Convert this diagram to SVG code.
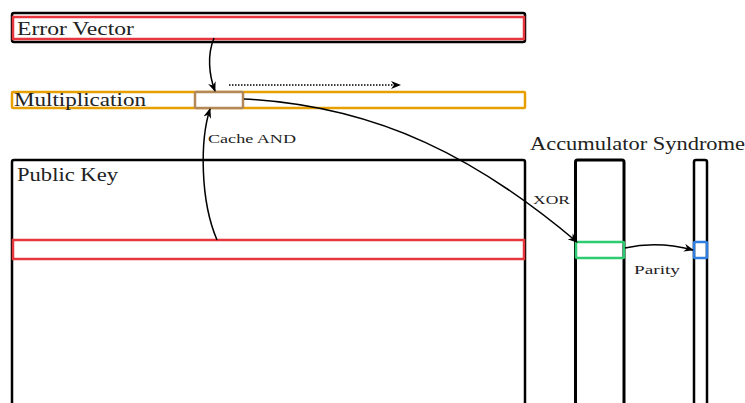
<svg xmlns="http://www.w3.org/2000/svg" width="745" height="403" viewBox="0 0 745 403">
<style>
.blk{fill:none;stroke:#000;stroke-width:2.5;stroke-linejoin:round}
.red{fill:none;stroke:#e8363f;stroke-width:2.5}
.org{fill:none;stroke:#e8a000;stroke-width:2.5}
.brn{fill:#fff;stroke:#b5885a;stroke-width:2.5}
.grn{fill:none;stroke:#2ecc71;stroke-width:2.5}
.blu{fill:none;stroke:#2f7fe0;stroke-width:2.5}
.t{font-family:"Liberation Serif","DejaVu Serif",serif;fill:#222}
.big{font-size:18px}
.sm{font-size:13px}
.conn path{fill:none;stroke:#000;stroke-width:1.5}
</style>
<defs>
<marker id="ah" viewBox="0 0 10 8" refX="9" refY="4" markerWidth="10" markerHeight="8" markerUnits="userSpaceOnUse" orient="auto">
<path d="M0,0 L10,4 L0,8 L3,4 Z" fill="#000"/>
</marker>
</defs>
<rect width="745" height="403" fill="#fff"/>
<g id="error-vector">
<rect class="blk" x="12" y="13" width="513" height="29" rx="2"/>
<rect class="red" x="13" y="17" width="511" height="22"/>
<text class="t big" x="17" y="35" textLength="117" lengthAdjust="spacingAndGlyphs">Error Vector</text>
</g>
<g id="multiplication">
<rect class="org" x="12" y="92" width="513" height="16" rx="1"/>
<rect class="brn" x="195" y="92" width="48" height="16" rx="1"/>
<text class="t big" x="14" y="106" textLength="132" lengthAdjust="spacingAndGlyphs">Multiplication</text>
</g>
<g id="public-key">
<path class="blk" d="M12,404 V162 Q12,160 14,160 H523 Q525,160 525,162 V404"/>
<rect class="red" x="13" y="240" width="511" height="19"/>
<text class="t big" x="17" y="181" textLength="101" lengthAdjust="spacingAndGlyphs">Public Key</text>
</g>
<g id="accumulator">
<path class="blk" d="M575.5,404 V162 Q575.5,160 577.5,160 H622 Q624,160 624,162 V404" style="stroke-width:3"/>
<rect class="grn" x="576" y="242" width="48" height="16" rx="1"/>
</g>
<g id="syndrome">
<path class="blk" d="M694,404 V162 Q694,160 696,160 H705 Q707,160 707,162 V404" style="stroke-width:2.5"/>
<rect class="blu" x="694" y="242" width="13" height="16" rx="1"/>
</g>
<text class="t big" x="530" y="150" textLength="215" lengthAdjust="spacingAndGlyphs">Accumulator Syndrome</text>
<g class="conn" id="connectors">
<path d="M214,38 C207,55 209,75 215,91" marker-end="url(#ah)"/>
<path d="M217,240 C200,200 200,140 210,109" marker-end="url(#ah)"/>
<path d="M229,85 H400" stroke-dasharray="1.5,1.5" marker-end="url(#ah)"/>
<path d="M244,99 C380,106 480,160 577,242" marker-end="url(#ah)"/>
<path d="M625,248 C648,243 670,244 693,250" marker-end="url(#ah)"/>
<text class="t sm" x="208" y="143" textLength="88" lengthAdjust="spacingAndGlyphs">Cache AND</text>
<text class="t sm" x="533" y="204" textLength="37" lengthAdjust="spacingAndGlyphs">XOR</text>
<text class="t sm" x="634" y="274" textLength="46" lengthAdjust="spacingAndGlyphs">Parity</text>
</g>
</svg>
